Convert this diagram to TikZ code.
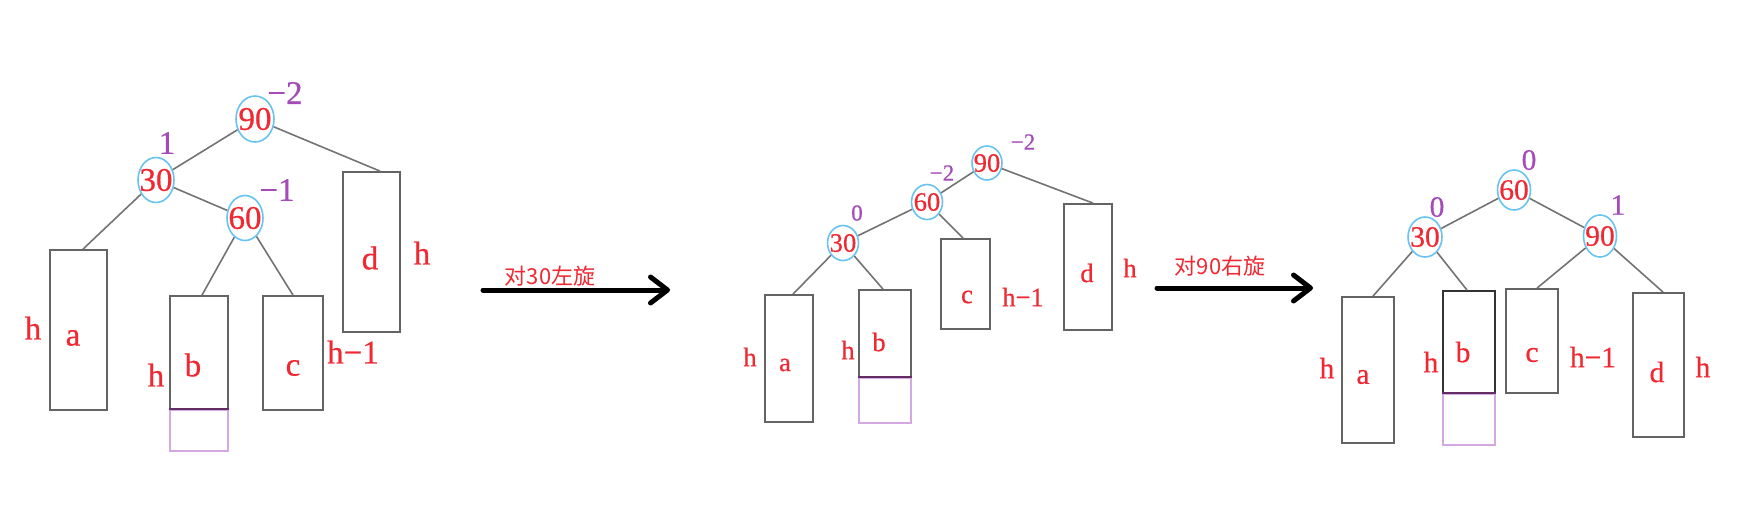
\documentclass[tikz,border=0pt]{standalone}
\usepackage{fontspec}
\setmainfont[FakeBold=0.6]{Liberation Serif}
\newfontfamily\cjk{Noto Sans CJK SC}
\usetikzlibrary{shapes.geometric,arrows.meta}
\definecolor{tred}{RGB}{240,40,50}
\definecolor{tpur}{RGB}{165,75,185}
\definecolor{cblue}{RGB}{105,195,240}
\definecolor{bgray}{RGB}{100,100,100}
\definecolor{egray}{RGB}{115,115,115}
\definecolor{lpur}{RGB}{212,168,226}
\definecolor{dpur}{RGB}{100,45,100}
\newcommand{\fA}{\fontsize{33}{35}\selectfont}
\newcommand{\fB}{\fontsize{26.5}{28}\selectfont}
\newcommand{\fC}{\fontsize{29.5}{31}\selectfont}
\begin{document}
\begin{tikzpicture}[x=1pt,y=-1pt,
 cnode/.style={ellipse,draw=cblue,line width=1.6pt,inner sep=-16pt,text=tred},
 box/.style={rectangle,draw=bgray,line width=1.8pt,inner sep=0pt},
 pbox/.style={rectangle,draw=lpur,line width=1.6pt,inner sep=0pt},
 edge/.style={draw=egray,line width=1.6pt},
 lbl/.style={text=tred,inner sep=0pt},
 bal/.style={text=tpur,inner sep=0pt},
 rot/.style={line width=5pt,line cap=round,-{Straight Barb[length=17pt,width=26pt,round]}},
 rtxt/.style={text=tred,font=\cjk\fontsize{22}{24}\selectfont,inner sep=0pt}
]
\useasboundingbox (0,0) rectangle (1764,531);

% ---------------- Tree 1 ----------------
\begin{scope}[every node/.append style={font=\fA}]
\node[cnode,minimum width=38pt,minimum height=46pt] (n90a) at (255,119) {90};
\node[cnode,minimum width=36pt,minimum height=45pt] (n30a) at (156,180) {30};
\node[cnode,minimum width=36pt,minimum height=45pt] (n60a) at (245,218) {60};
\node[bal] (b90a) at (285,93) {−2};
\node[bal] (b30a) at (167,143) {1};
\node[bal] (b60a) at (277,190) {−1};
\node[box,minimum width=57pt,minimum height=160pt] (A1) at (78.5,330) {};
\node[box,minimum width=58pt,minimum height=114pt] (B1) at (199,353) {};
\node[pbox,minimum width=58pt,minimum height=41pt] (P1) at (199,430.5) {};
\node[box,minimum width=60pt,minimum height=114pt] (C1) at (293,353) {};
\node[box,minimum width=57pt,minimum height=160pt] (D1) at (371.5,252) {};
\node[lbl] (ta1) at (73,338) {a};
\node[lbl] (tb1) at (193,365) {b};
\node[lbl] (tc1) at (293,368) {c};
\node[lbl] (td1) at (370,258) {d};
\node[lbl] (ha1) at (33,328) {h};
\node[lbl] (hb1) at (156,375) {h};
\node[lbl] (hc1) at (353,352) {h−1};
\node[lbl] (hd1) at (422,253) {h};
\end{scope}
\draw[dpur,line width=2pt] (P1.north west) -- (P1.north east);
\draw[edge] (n90a) -- (n30a);
\draw[edge] (n90a) -- ([xshift=8.5pt]D1.north);
\draw[edge] (n30a) -- ([xshift=4.5pt]A1.north);
\draw[edge] (n30a) -- (n60a);
\draw[edge] (n60a) -- ([xshift=3pt]B1.north);
\draw[edge] (n60a) -- (C1.north);

% ---------------- Arrow 1 ----------------
\coordinate (r1s) at (483,290);
\coordinate (r1e) at (670,290);
\draw[rot] (r1s) -- (r1e);
\node[rtxt] (t1) at (550,276) {对30左旋};

% ---------------- Tree 2 ----------------
\begin{scope}[every node/.append style={font=\fB}]
\node[cnode,minimum width=30pt,minimum height=34pt,inner sep=-12pt] (n90b) at (987,163) {90};
\node[cnode,minimum width=31pt,minimum height=35pt,inner sep=-12pt] (n60b) at (927,202) {60};
\node[cnode,minimum width=31pt,minimum height=35pt,inner sep=-12pt] (n30b) at (843,243) {30};
\node[bal,font=\fontsize{23}{25}\selectfont] (b90b) at (1023,142) {−2};
\node[bal,font=\fontsize{23}{25}\selectfont] (b60b) at (942,173) {−2};
\node[bal,font=\fontsize{23}{25}\selectfont] (b30b) at (857,213) {0};
\node[box,minimum width=48pt,minimum height=127pt] (A2) at (789,358.5) {};
\node[box,minimum width=52pt,minimum height=88pt] (B2) at (885,334) {};
\node[pbox,minimum width=52pt,minimum height=45pt] (P2) at (885,400.5) {};
\node[box,minimum width=49pt,minimum height=90pt] (C2) at (965.5,284) {};
\node[box,minimum width=48pt,minimum height=126pt] (D2) at (1088,267) {};
\node[lbl] (ta2) at (785,365) {a};
\node[lbl] (tb2) at (879,342) {b};
\node[lbl] (tc2) at (967,297) {c};
\node[lbl] (td2) at (1087,273) {d};
\node[lbl] (ha2) at (750,357) {h};
\node[lbl] (hb2) at (848,350) {h};
\node[lbl] (hc2) at (1023,297) {h−1};
\node[lbl] (hd2) at (1130,268) {h};
\end{scope}
\draw[dpur,line width=2pt] (P2.north west) -- (P2.north east);
\draw[edge] (n90b) -- (n60b);
\draw[edge] (n90b) -- ([xshift=5pt]D2.north);
\draw[edge] (n60b) -- (n30b);
\draw[edge] (n60b) -- ([xshift=-2.5pt]C2.north);
\draw[edge] (n30b) -- ([xshift=4pt]A2.north);
\draw[edge] (n30b) -- ([xshift=-2pt]B2.north);

% ---------------- Arrow 2 ----------------
\coordinate (r2s) at (1157,288);
\coordinate (r2e) at (1313,288);
\draw[rot] (r2s) -- (r2e);
\node[rtxt] (t2) at (1220,266) {对90右旋};

% ---------------- Tree 3 ----------------
\begin{scope}[every node/.append style={font=\fC}]
\node[cnode,minimum width=33pt,minimum height=40pt,inner sep=-14pt] (n60c) at (1514,190) {60};
\node[cnode,minimum width=34pt,minimum height=40pt,inner sep=-14pt] (n30c) at (1425,237) {30};
\node[cnode,minimum width=33pt,minimum height=42pt,inner sep=-14pt] (n90c) at (1600,236) {90};
\node[bal] (b60c) at (1529,160) {0};
\node[bal] (b30c) at (1437,207) {0};
\node[bal] (b90c) at (1618,205) {1};
\node[box,minimum width=52pt,minimum height=146pt] (A3) at (1368,370) {};
\node[box,minimum width=52pt,minimum height=103pt,draw=black!80] (B3) at (1469,342.5) {};
\node[pbox,minimum width=52pt,minimum height=51pt] (P3) at (1469,419.5) {};
\node[box,minimum width=52pt,minimum height=104pt] (C3) at (1532,341) {};
\node[box,minimum width=51pt,minimum height=144pt] (D3) at (1658.5,365) {};
\node[lbl] (ta3) at (1363,377) {a};
\node[lbl] (tb3) at (1463,352) {b};
\node[lbl] (tc3) at (1532,355) {c};
\node[lbl] (td3) at (1657,372) {d};
\node[lbl] (ha3) at (1327,368) {h};
\node[lbl] (hb3) at (1431,362) {h};
\node[lbl] (hc3) at (1593,357) {h−1};
\node[lbl] (hd3) at (1703,367) {h};
\end{scope}
\draw[dpur,line width=2pt] (P3.north west) -- (P3.north east);
\draw[edge] (n60c) -- (n30c);
\draw[edge] (n60c) -- (n90c);
\draw[edge] (n30c) -- ([xshift=5pt]A3.north);
\draw[edge] (n30c) -- ([xshift=-2pt]B3.north);
\draw[edge] (n90c) -- ([xshift=5pt]C3.north);
\draw[edge] (n90c) -- ([xshift=4.5pt]D3.north);
\end{tikzpicture}
\end{document}
